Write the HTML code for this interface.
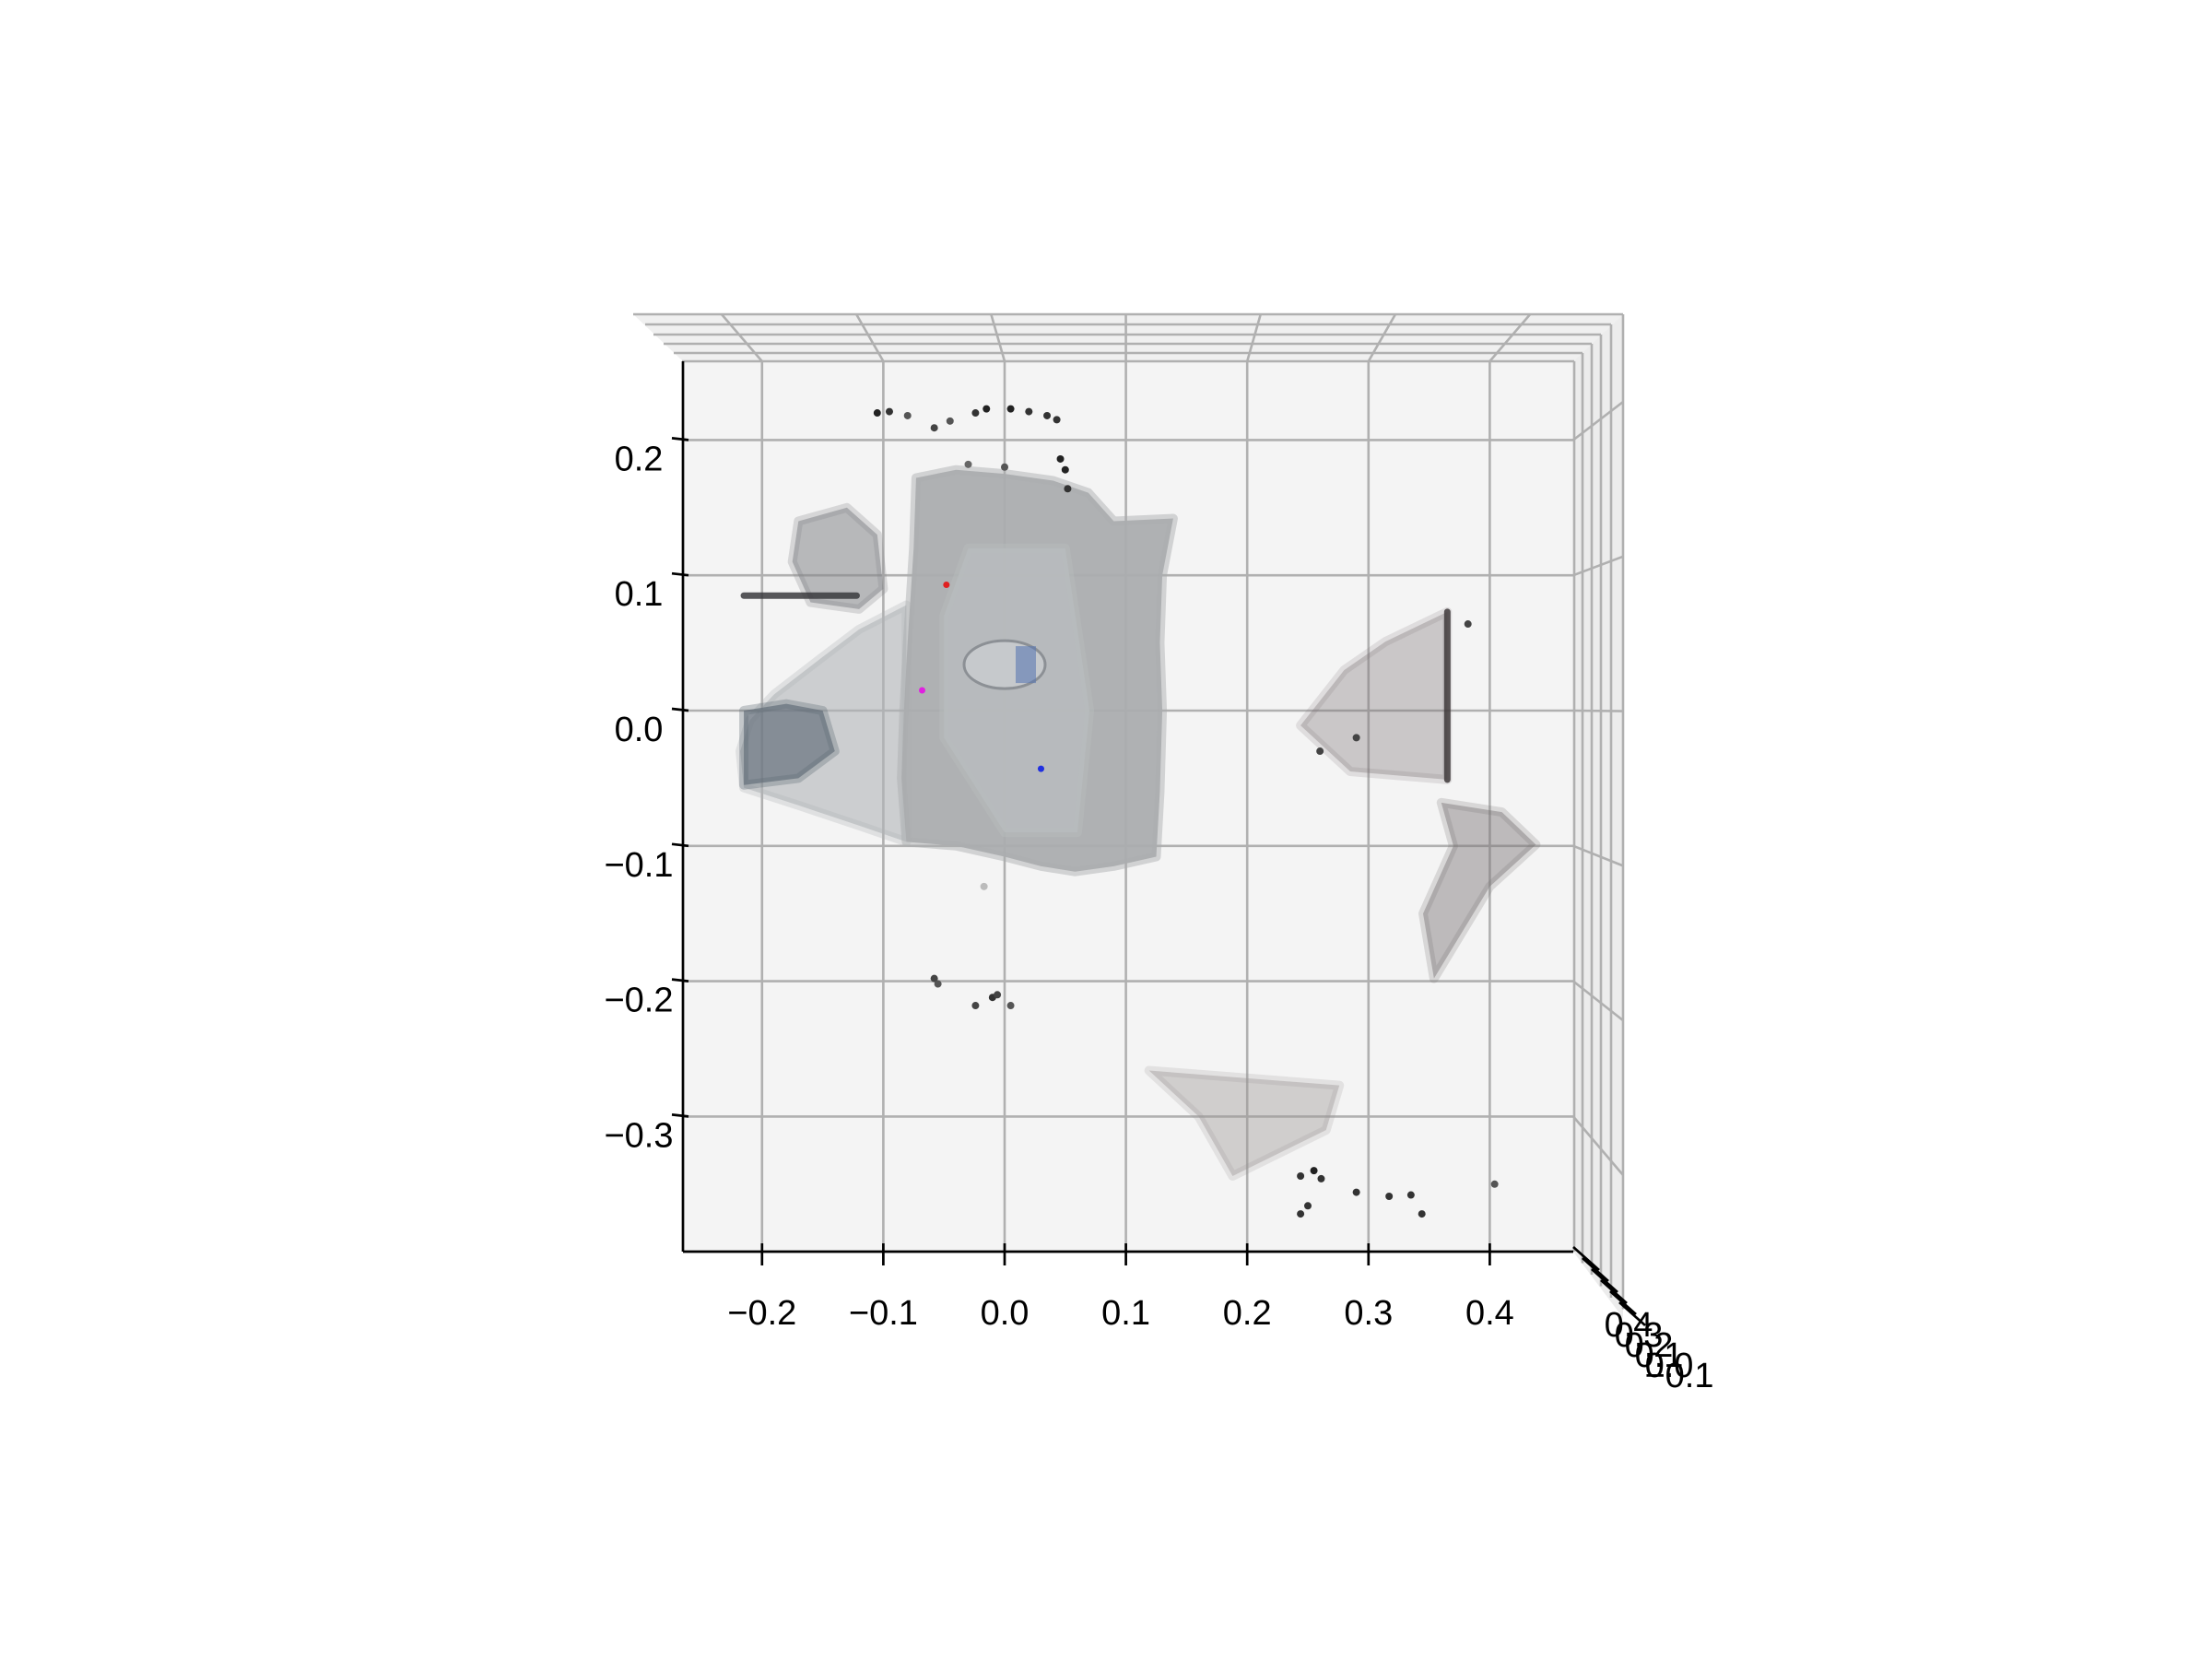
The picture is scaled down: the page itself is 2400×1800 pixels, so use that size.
<!DOCTYPE html>
<html><head><meta charset="utf-8"><style>
html,body{margin:0;padding:0;background:#fff;}
svg{display:block;font-family:"Liberation Sans","DejaVu Sans",sans-serif;}
</style></head><body>
<svg id="chart" width="2400" height="1800" viewBox="0 0 2400 1800" xmlns="http://www.w3.org/2000/svg">
<rect width="2400" height="1800" fill="#fff"/>
<g id="panes"></g>
<g id="grid"></g>
<g id="clusters"></g>
<g id="points"></g>
<g id="axes"></g>
</svg>
<script>
const xTicks=[-0.2,-0.1,0.0,0.1,0.2,0.3,0.4];
const yTicks=[0.2,0.1,0.0,-0.1,-0.2,-0.3];
const zTickLabels=["0.4","0.3","0.2","0.1","0.0","\u22120.1"];
const mainBlob=[[-0.073,0.172],[-0.04,0.178],[0.0,0.175],[0.04,0.17],[0.069,0.161],[0.09,0.14],[0.139,0.142],[0.13,0.10],[0.128,0.05],[0.13,0.0],[0.128,-0.06],[0.125,-0.108],[0.09,-0.115],[0.058,-0.119],[0.03,-0.115],[0.0,-0.108],[-0.04,-0.10],[-0.081,-0.097],[-0.085,-0.05],[-0.083,0.0],[-0.08,0.05],[-0.075,0.12]];
const innerBlob=[[-0.03,0.12],[0.05,0.12],[0.07,0.0],[0.06,-0.09],[0.0,-0.09],[-0.05,-0.02],[-0.05,0.07]];
const leftWing=[[-0.081,0.078],[-0.12,0.06],[-0.151,0.039],[-0.19,0.012],[-0.21,-0.007],[-0.218,-0.03],[-0.215,-0.057],[-0.17,-0.07],[-0.12,-0.085],[-0.081,-0.097]];
const upperLeft=[[-0.17,0.14],[-0.13,0.15],[-0.105,0.13],[-0.10,0.09],[-0.12,0.075],[-0.16,0.08],[-0.175,0.11]];
const darkLeft=[[-0.215,-0.0],[-0.18,0.005],[-0.15,0.0],[-0.14,-0.03],[-0.17,-0.05],[-0.215,-0.055]];
const rightA=[[0.244,-0.011],[0.28,0.03],[0.314,0.051],[0.365,0.073],[0.365,-0.051],[0.285,-0.045]];
const rightB=[[0.36,-0.068],[0.41,-0.075],[0.438,-0.099],[0.40,-0.13],[0.354,-0.198],[0.345,-0.15],[0.37,-0.10]];
const bottomC=[[0.119,-0.266],[0.276,-0.277],[0.265,-0.31],[0.188,-0.344],[0.16,-0.30]];
const barX=[-0.215,-0.122];
const barY=0.085;
const vlineX=0.365;
const vlineY=[-0.051,0.073];
const ptsX=[-0.105,-0.095,-0.08,-0.058,-0.045,-0.024,-0.015,0.005,0.02,0.035,0.043,0.046,0.05,0.052,-0.03,0.0,-0.058,-0.055,-0.024,-0.01,-0.006,0.005,-0.017,0.244,0.255,0.261,0.290,0.317,0.335,0.344,0.404,0.244,0.25,0.382,0.26,0.29];
const ptsY=[0.220,0.221,0.218,0.209,0.214,0.220,0.223,0.223,0.221,0.218,0.215,0.186,0.178,0.164,0.182,0.180,-0.198,-0.202,-0.218,-0.212,-0.210,-0.218,-0.130,-0.344,-0.340,-0.346,-0.356,-0.359,-0.358,-0.372,-0.350,-0.372,-0.366,0.064,-0.03,-0.02];
const ptsC=["#222","#333","#555","#444","#555","#333","#222","#222","#333","#333","#333","#222","#222","#333","#666","#555","#444","#555","#444","#333","#444","#555","#bbb","#333","#222","#333","#333","#333","#333","#333","#555","#333","#333","#444","#444","#444"];
const markX=[-0.048,-0.068,0.030];
const markY=[0.093,0.015,-0.043];
const markC=["#e02020","#e020e0","#2030e0"];

const sx=x=>1090+x*1316;
const sy=y=>771-y*1468;
const NS="http://www.w3.org/2000/svg";
function mk(tag,attrs,parent){const e=document.createElementNS(NS,tag);for(const k in attrs)e.setAttribute(k,attrs[k]);parent.appendChild(e);return e;}
const panes=document.getElementById('panes'),grid=document.getElementById('grid'),cl=document.getElementById('clusters'),pg=document.getElementById('points'),ax=document.getElementById('axes');
const L=741,R=1707,T=392,B=1358;
let p;
p=mk('polygon',{points:`${L},${T} ${R},${T} ${R},${B} ${L},${B}`,fill:'#f4f4f4'},panes);


p=mk('polygon',{points:`687,341 1761,341 ${R},${T} ${L},${T}`,fill:'#f0f0f0'},panes);


p=mk('polygon',{points:`${R},${T} 1761,341 1761,1430 ${R},${B}`,fill:'#ececec'},panes);


const gs={stroke:'#b0b0b0','stroke-width':2.6,fill:'none'};
const topYs=[341,352,363,373,383,392],topLs=[687,700,709,720,731,740],topRs=[1761,1748,1737,1727,1717,1708];
topYs.forEach((y,i)=>{const l=mk('line',Object.assign({x1:topLs[i],y1:y,x2:topRs[i],y2:y},gs),grid);


const v=mk('line',Object.assign({x1:topRs[i],y1:y,x2:topRs[i],y2:B+(5-i)*12.5},gs),grid);

});
xTicks.forEach(t=>{const x=sx(t);
let l=mk('line',Object.assign({x1:x,y1:T,x2:x,y2:B},gs),grid);


l=mk('line',Object.assign({x1:x,y1:T,x2:1222+(x-1222)*1.111,y2:341},gs),grid);

});
yTicks.forEach(t=>{const y=sy(t);
let l=mk('line',Object.assign({x1:L,y1:y,x2:R,y2:y},gs),grid);


l=mk('line',Object.assign({x1:R,y1:y,x2:1761,y2:767+(y-767)*1.143},gs),grid);

});
function poly(pts,fill,op,name){const e=mk('polygon',{points:pts.map(q=>sx(q[0])+','+sy(q[1])).join(' '),fill:fill,'fill-opacity':op,stroke:fill,'stroke-opacity':op*0.5,'stroke-width':10,'stroke-linejoin':'round'},cl);

}
poly(leftWing,'#b0b4b7',0.6,'left-wing-cluster');
poly(upperLeft,'#85878a',0.55,'upper-left-cluster');
poly(darkLeft,'#5f6a76',0.65,'dark-left-cluster');
poly(mainBlob,'#abadaf',0.95,'main-cluster');
poly(innerBlob,'#b9bcbe',0.85,'inner-cluster');
poly(rightA,'#7a7475',0.35,'right-cluster-a');
poly(rightB,'#7a7475',0.45,'right-cluster-b');
poly(bottomC,'#9a9694',0.4,'bottom-cluster');
let b=mk('line',{x1:sx(barX[0]),y1:sy(barY),x2:sx(barX[1]),y2:sy(barY),stroke:'#3a3a3d','stroke-width':7,'stroke-linecap':'round','stroke-opacity':0.85},cl);


b=mk('line',{x1:sx(vlineX),y1:sy(vlineY[0]),x2:sx(vlineX),y2:sy(vlineY[1]),stroke:'#3f3a3b','stroke-width':7,'stroke-linecap':'round','stroke-opacity':0.85},cl);


const bx=sx(0),by=sy(0.034);
let e=mk('ellipse',{cx:bx,cy:by,rx:44,ry:26,fill:'#c6c9cc',stroke:'#8c9095','stroke-width':3},cl);


e=mk('rect',{x:bx+12,y:by-20,width:22,height:40,fill:'#5a78b0','fill-opacity':0.6},cl);


ptsX.forEach((x,i)=>{const c=mk('circle',{cx:sx(x),cy:sy(ptsY[i]),r:4,fill:ptsC[i]},pg);

});
markX.forEach((x,i)=>{const c=mk('circle',{cx:sx(x),cy:sy(markY[i]),r:3.5,fill:markC[i]},pg);

});
const as={stroke:'#000','stroke-width':2.7};
let a=mk('line',Object.assign({x1:L,y1:T,x2:L,y2:B},as),ax);


a=mk('line',Object.assign({x1:L,y1:B,x2:R,y2:B},as),ax);


xTicks.forEach(t=>{const x=sx(t);
const k=mk('line',Object.assign({x1:x,y1:B-9,x2:x,y2:B+15},as),ax);


const tx=mk('text',{x:x,y:B+79,'font-size':38,'text-anchor':'middle',fill:'#000'},ax);
tx.textContent=(t<0?'\u2212':'')+Math.abs(t).toFixed(1);

});
yTicks.forEach(t=>{const y=sy(t);
const k=mk('line',Object.assign({x1:L-12,y1:y-2,x2:L+6,y2:y},as),ax);


const tx=mk('text',{x:693,y:y+33,'font-size':38,'text-anchor':'middle',fill:'#000'},ax);
tx.textContent=(t<0?'\u2212':'')+Math.abs(t).toFixed(1);

});
zTickLabels.forEach((s,i)=>{const k=mk('line',Object.assign({x1:R+i*10,y1:B-5+i*12,x2:R+i*10+28,y2:B+20+i*12},as),ax);


const tx=mk('text',{x:1767+i*11,y:1450+i*11,'font-size':38,'text-anchor':'middle',fill:'#000'},ax);
tx.textContent=s;

});
</script>
</body></html>
